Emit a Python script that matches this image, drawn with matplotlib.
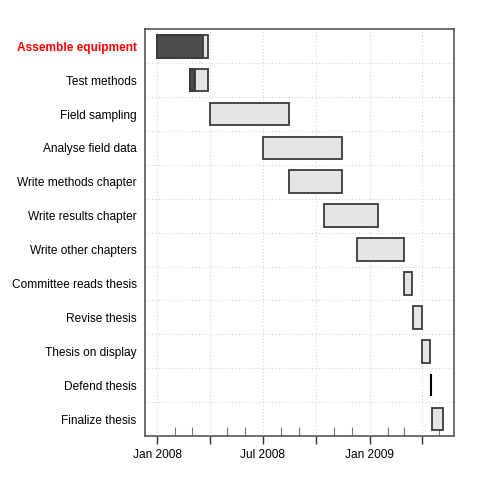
from datetime import date

import matplotlib
matplotlib.use("Agg")
import matplotlib.pyplot as plt
import matplotlib.dates as mdates

tasks = [
    "Assemble equipment", "Test methods", "Field sampling",
    "Analyse field data", "Write methods chapter", "Write results chapter",
    "Write other chapters", "Committee reads thesis", "Revise thesis",
    "Thesis on display", "Defend thesis", "Finalize thesis",
]
starts = [
    "2008-01-01", "2008-02-27", "2008-04-01", "2008-07-01", "2008-08-15",
    "2008-10-15", "2008-12-11", "2009-03-01", "2009-03-16", "2009-04-01",
    "2009-04-17", "2009-04-18",
]
ends = [
    "2008-03-28", "2008-03-28", "2008-08-15", "2008-11-15", "2008-11-15",
    "2009-01-16", "2009-03-01", "2009-03-15", "2009-04-01", "2009-04-15",
    "2009-04-17", "2009-05-08",
]
done = [90, 30, 0, 0, 0, 0, 0, 0, 0, 0, 0, 0]
key_tasks = ["Assemble equipment"]

major_ticks = ["2008-01-01", "2008-04-01", "2008-07-01", "2008-10-01",
               "2009-01-01", "2009-04-01"]
major_labels = ["Jan 2008", "", "Jul 2008", "", "Jan 2009", ""]
minor_ticks = ["2008-02-01", "2008-03-01", "2008-05-01", "2008-06-01",
               "2008-08-01", "2008-09-01", "2008-11-01", "2008-12-01",
               "2009-02-01", "2009-03-01", "2009-05-01"]
xlim = ("2007-12-11", "2009-05-27")


def d(s):
    return mdates.date2num(date.fromisoformat(s))


plt.rcParams["font.family"] = ["Liberation Sans", "DejaVu Sans"]

fig = plt.figure(figsize=(4.8, 4.8), dpi=100)
ax = fig.add_axes([0.302, 0.0917, 0.6445, 0.8473])

h = 0.67
for i, (name, s, e, p) in enumerate(zip(tasks, starts, ends, done)):
    y = i + 1
    x0, x1 = d(s), d(e)
    if x1 <= x0:
        # zero-length task drawn as a single line
        ax.vlines(x0, y - h / 2, y + h / 2, color="black", lw=1.5, zorder=3)
        continue
    ax.barh(y, x1 - x0, left=x0, height=h, color="#e5e5e5",
            edgecolor="#3a3a3a", lw=1.3, zorder=3)
    if p > 0:
        ax.barh(y, (x1 - x0) * p / 100, left=x0, height=h, color="#4d4d4d",
                edgecolor="#3a3a3a", lw=1.3, zorder=4)

ax.set_ylim(len(tasks) + 0.5, 0.5)
ax.set_xlim(d(xlim[0]), d(xlim[1]))

ax.set_yticks(range(1, len(tasks) + 1))
ax.set_yticklabels(tasks, fontsize=8.6)
for lab in ax.get_yticklabels():
    if lab.get_text() in key_tasks:
        lab.set_color("red")
        lab.set_fontweight("bold")
ax.tick_params(axis="y", length=0, pad=6)

ax.set_xticks([d(t) for t in major_ticks])
ax.set_xticklabels(major_labels, fontsize=8.6)
ax.set_xticks([d(t) for t in minor_ticks], minor=True)
ax.tick_params(axis="x", which="major", direction="out", length=5.8,
               width=1, color="#333333", pad=3.5)
ax.tick_params(axis="x", which="minor", direction="in", length=6.5,
               width=0.8, color="#777777")

for t in major_ticks:
    ax.axvline(d(t), color="#d3d3d3", lw=0.8, ls=(0, (1, 2)), zorder=1)
for k in range(1, len(tasks)):
    ax.axhline(k + 0.5, color="#d3d3d3", lw=0.8, ls=(0, (1, 2)), zorder=1)

for sp in ax.spines.values():
    sp.set_color("#555555")
    sp.set_linewidth(1.2)

fig.savefig("out.png", dpi=100)
